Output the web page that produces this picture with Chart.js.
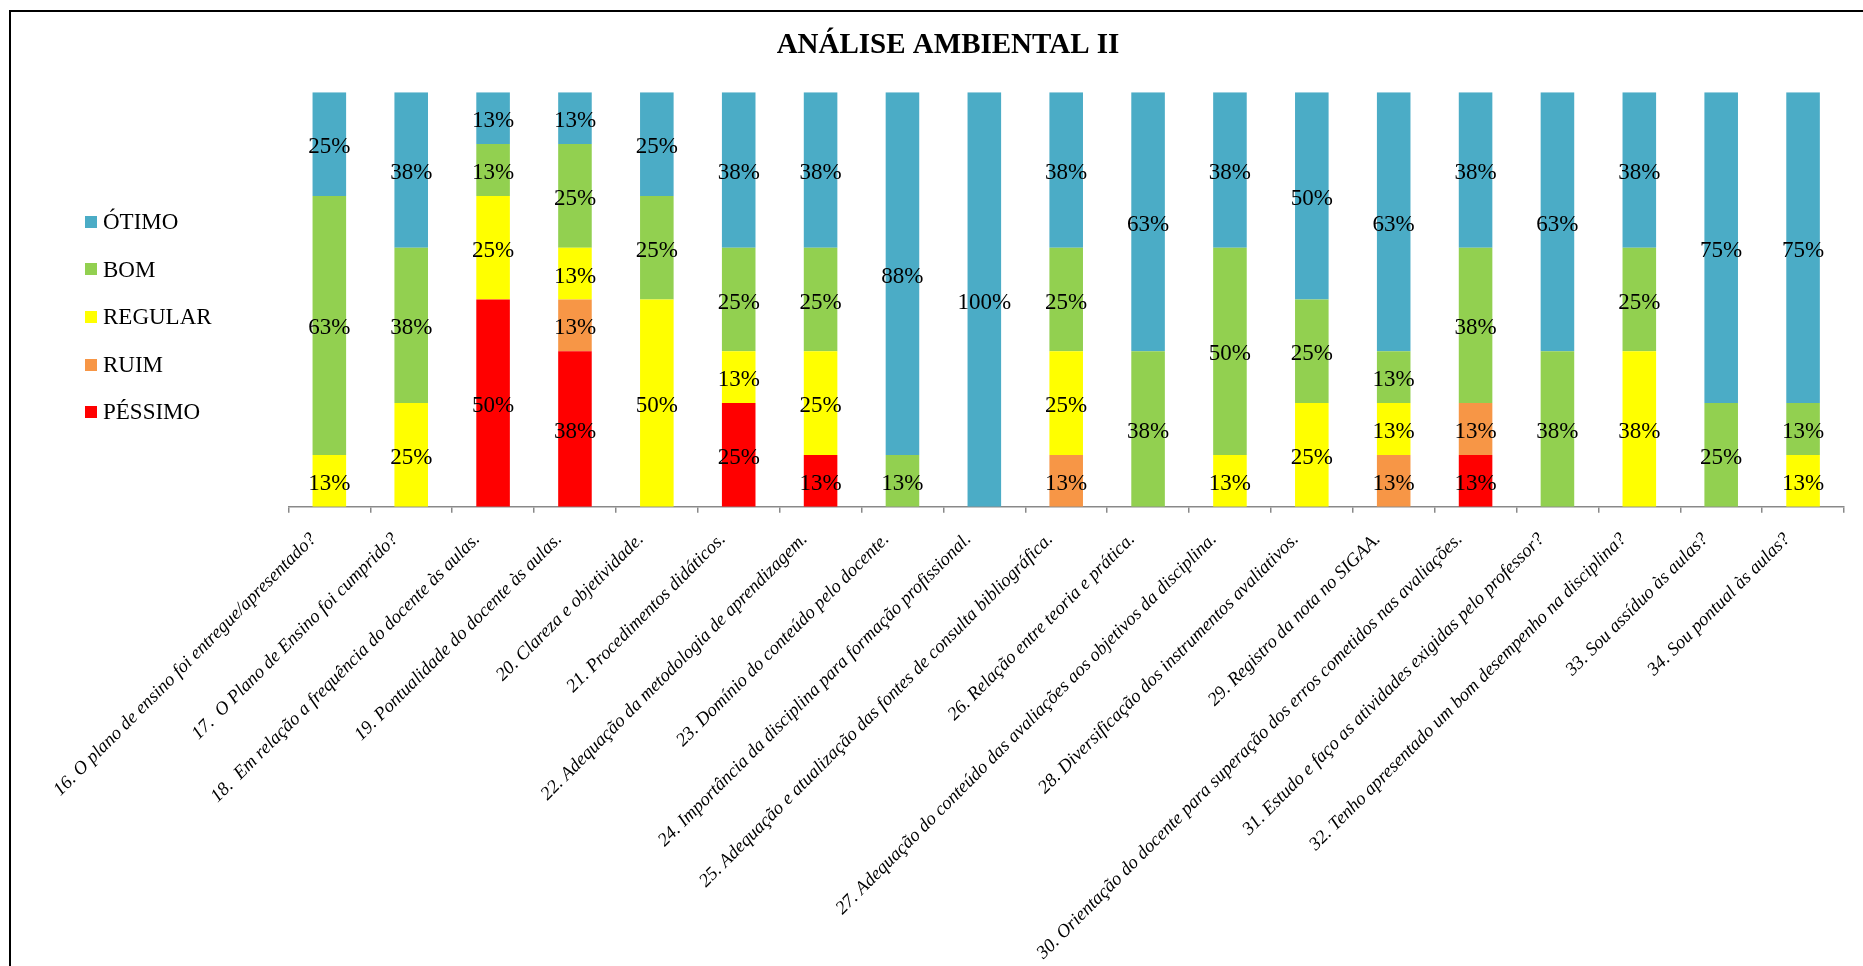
<!DOCTYPE html>
<html>
<head>
<meta charset="utf-8">
<title>ANÁLISE AMBIENTAL II</title>
<script src="https://cdn.jsdelivr.net/npm/chart.js@4/dist/chart.umd.min.js"></script>
<style>
  body { margin: 0; background: #fff; overflow: hidden; }
  #frame { position: absolute; left: 9px; top: 10px; width: 1900px; height: 1000px; border-left: 2px solid #000; border-top: 2px solid #000; }
  #wrap { position: absolute; left: 0; top: 0; width: 1863px; height: 966px; }
  #legend { position: absolute; left: 85px; top: 198px; font-family: "Liberation Serif", "Times New Roman", serif; font-size: 23px; color: #000; }
  #legend .item { height: 47.6px; line-height: 47.6px; white-space: nowrap; }
  #legend .box { display: inline-block; width: 12px; height: 12px; margin-right: 6px; vertical-align: middle; position: relative; top: -2px; }
</style>
</head>
<body>
<div id="frame"></div>
<div id="wrap"><canvas id="analiseChart"></canvas></div>
<div id="legend"></div>
<script>
const questions = [
  "16. O plano de ensino foi entregue/apresentado?",
  "17.  O Plano de Ensino foi cumprido?",
  "18.  Em relação a frequência do docente às aulas.",
  "19. Pontualidade do docente às aulas.",
  "20. Clareza e objetividade.",
  "21. Procedimentos didáticos.",
  "22. Adequação da metodologia de aprendizagem.",
  "23. Domínio do conteúdo pelo docente.",
  "24. Importância da disciplina para formação profissional.",
  "25. Adequação e atualização das fontes de consulta bibliográfica.",
  "26. Relação entre teoria e prática.",
  "27. Adequação do conteúdo das avaliações aos objetivos da disciplina.",
  "28. Diversificação dos instrumentos avaliativos.",
  "29. Registro da nota no SIGAA.",
  "30. Orientação do docente para superação dos erros cometidos nas avaliações.",
  "31. Estudo e faço as atividades exigidas pelo professor?",
  "32. Tenho apresentado um bom desempenho na disciplina?",
  "33. Sou assíduo às aulas?",
  "34. Sou pontual às aulas?"
];

// percentages per answer, one value per question (stack order: bottom first)
const pessimo = [0, 0, 50, 37.5, 0, 25, 12.5, 0, 0, 0, 0, 0, 0, 0, 12.5, 0, 0, 0, 0];
const ruim    = [0, 0, 0, 12.5, 0, 0, 0, 0, 0, 12.5, 0, 0, 0, 12.5, 12.5, 0, 0, 0, 0];
const regular = [12.5, 25, 25, 12.5, 50, 12.5, 25, 0, 0, 25, 0, 12.5, 25, 12.5, 0, 0, 37.5, 0, 12.5];
const bom     = [62.5, 37.5, 12.5, 25, 25, 25, 25, 12.5, 0, 25, 37.5, 50, 25, 12.5, 37.5, 37.5, 25, 25, 12.5];
const otimo   = [25, 37.5, 12.5, 12.5, 25, 37.5, 37.5, 87.5, 100, 37.5, 62.5, 37.5, 50, 62.5, 37.5, 62.5, 37.5, 75, 75];

const seriesNames = ["PÉSSIMO", "RUIM", "REGULAR", "BOM", "ÓTIMO"];
const seriesColors = ["#FF0000", "#F79646", "#FFFF00", "#92D050", "#4BACC6"];
const seriesValues = [pessimo, ruim, regular, bom, otimo];

var serif = '"Liberation Serif", "Times New Roman", serif';

var datasets = seriesNames.map(function(name, i) {
  return {
    label: name,
    data: seriesValues[i],
    backgroundColor: seriesColors[i],
    borderWidth: 0,
    barPercentage: 0.41,
    categoryPercentage: 1
  };
});

// percentage text in the middle of each segment
var segmentLabels = {
  id: 'segmentLabels',
  afterDatasetsDraw: function(chart) {
    var ctx = chart.ctx;
    ctx.save();
    ctx.font = '23px ' + serif;
    ctx.fillStyle = '#000';
    ctx.textAlign = 'center';
    ctx.textBaseline = 'middle';
    chart.data.datasets.forEach(function(ds, i) {
      var meta = chart.getDatasetMeta(i);
      meta.data.forEach(function(bar, j) {
        var v = ds.data[j];
        if (!v) return;
        ctx.fillText(Math.round(v) + '%', bar.x, (bar.y + bar.base) / 2 + 3);
      });
    });
    ctx.restore();
  }
};

var ctx = document.getElementById('analiseChart').getContext('2d');
var chart = new Chart(ctx, {
  type: 'bar',
  data: { labels: questions, datasets: datasets },
  plugins: [segmentLabels],
  options: {
    responsive: true,
    maintainAspectRatio: false,
    animation: false,
    layout: { padding: { left: 52, right: 19, top: 0, bottom: 0 } },
    plugins: {
      legend: { display: false },
      tooltip: { enabled: false },
      title: {
        display: true,
        text: 'ANÁLISE AMBIENTAL II',
        color: '#000',
        font: { family: serif, size: 29, weight: 'bold', lineHeight: 1.2 },
        padding: { top: 28.5, bottom: 29 }
      }
    },
    scales: {
      x: {
        stacked: true,
        grid: { display: true, drawOnChartArea: false, drawTicks: true, tickLength: 6, color: '#898989', lineWidth: 1.5 },
        border: { display: true, color: '#898989', width: 1.5 },
        ticks: {
          color: '#000',
          autoSkip: false,
          maxRotation: 45,
          minRotation: 45,
          padding: 16,
          labelOffset: -16,
          font: { family: serif, size: 18.6, style: 'italic' }
        },
        afterFit: function(scale) { scale.height = 459.3; }
      },
      y: {
        stacked: true,
        min: 0,
        max: 100,
        grid: { display: false },
        border: { display: false },
        ticks: { display: false },
        afterFit: function(scale) { scale.width = 236.4; }
      }
    }
  }
});

// legend, top answer first
var legendBox = document.getElementById('legend');
for (var i = seriesNames.length - 1; i >= 0; i--) {
  var item = document.createElement('div');
  item.className = 'item';
  item.innerHTML = '<span class="box" style="background:' + seriesColors[i] + '"></span>' + seriesNames[i];
  legendBox.appendChild(item);
}
</script>
</body>
</html>
